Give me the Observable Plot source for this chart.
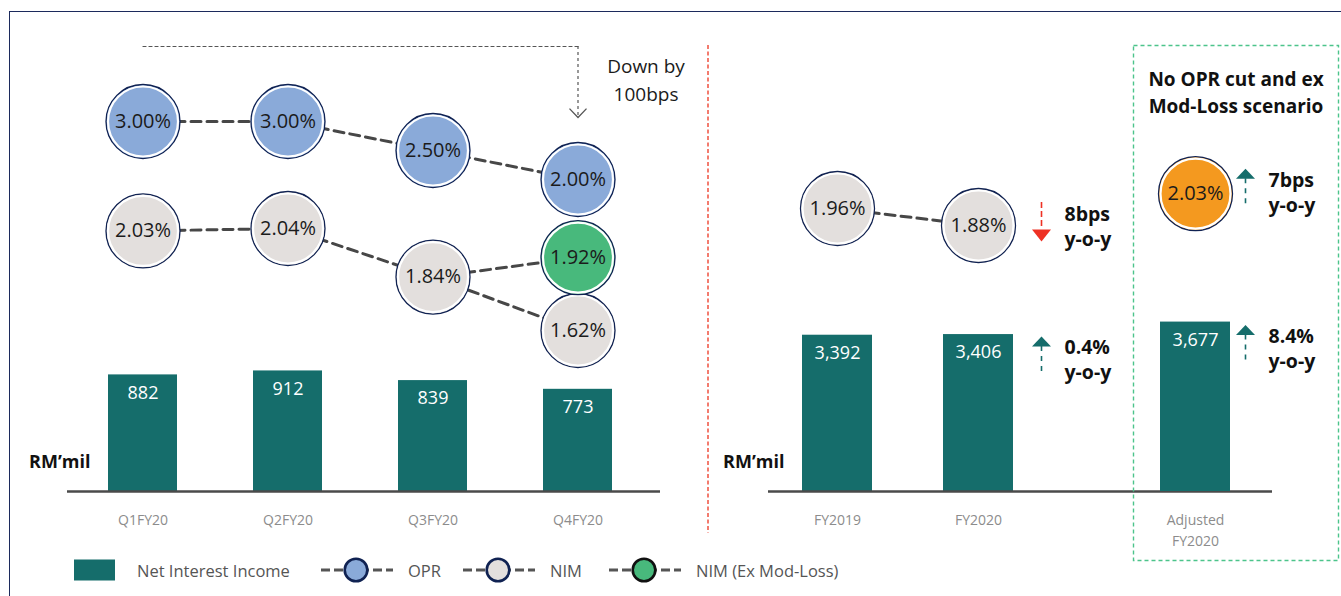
<!DOCTYPE html>
<html>
<head>
<meta charset="utf-8">
<script src="https://cdn.jsdelivr.net/npm/d3@7"></script>
<script src="https://cdn.jsdelivr.net/npm/@observablehq/plot@0.6"></script>
<style>
  body { margin: 0; background: #fff; font-family: 'Open Sans', sans-serif; }
  #chart { position: relative; width: 1341px; height: 596px; overflow: hidden; background: #fff; }
  .border { position: absolute; left: 9px; top: 11px; width: 2000px; height: 2000px;
            border-top: 1.4px solid #1c2a5c; border-left: 1.4px solid #1c2a5c; }
  .legend-item { position: absolute; top: 556px; height: 28px; display: flex; align-items: center;
                 font-size: 16.5px; color: #555; white-space: nowrap; }
</style>
</head>
<body>
<div id="chart"><div class="border"></div></div>
<script>
// Quarterly net interest income (RM mil), OPR and NIM (%)
const quarters = ["Q1FY20", "Q2FY20", "Q3FY20", "Q4FY20"];
const quarterNII = [882, 912, 839, 773];
const quarterOPR = [3.00, 3.00, 2.50, 2.00];
const quarterNIM = [2.03, 2.04, 1.84, 1.62];
const q4NIMExModLoss = 1.92;

// Full-year comparison
const years = ["FY2019", "FY2020"];
const yearNII = [3392, 3406];
const yearNIM = [1.96, 1.88];

// No OPR cut and ex Mod-Loss scenario
const adjustedYear = "Adjusted\nFY2020";
const adjustedNII = 3677;
const adjustedNIM = 2.03;
const scenarioTitle = "No OPR cut and ex\nMod-Loss scenario";

const legendLabels = ["Net Interest Income", "OPR", "NIM", "NIM (Ex Mod-Loss)"];

const colors = {
  nii: "#156d6b", opr: "#8aaad9", nim: "#e3dfdd", exMod: "#48b97c", adjusted: "#f4991f",
  ring: "#102252", link: "#474747", up: "#156d6b", down: "#ee3124", note: "#111"
};

const chart = document.getElementById("chart");
const W = 1341, H = 596;
const layerStyle = "position:absolute;left:0;top:0;background:transparent;overflow:visible;font-family:'Open Sans',sans-serif;";

// Every layer is a full-size transparent Plot stacked on the same origin
function layer(options) {
  const svg = Plot.plot({width: W, height: H, style: layerStyle, ...options});
  chart.appendChild(svg);
}

const rows = (keys, values) => keys.map((k, i) => ({k, v: values[i]}));
const leftNII = rows(quarters, quarterNII);
const leftOPR = rows(quarters, quarterOPR);
const leftNIM = rows(quarters, quarterNIM);
const leftExMod = [{k: quarters[3], v: q4NIMExModLoss}];
const exModLink = [leftNIM[2], leftExMod[0]];
const yearNIIRows = rows(years, yearNII);
const yearNIMRows = rows(years, yearNIM);
const adjNIIRows = [{k: adjustedYear, v: adjustedNII}];
const adjNIMRows = [{k: adjustedYear, v: adjustedNIM}];

// Arrow heads and the open chevron, anchored at their base
const headUp = {draw(ctx, size) { const r = Math.sqrt(size / Math.PI); ctx.moveTo(0, -r * 1.05); ctx.lineTo(r, 0); ctx.lineTo(-r, 0); ctx.closePath(); }};
const headDown = {draw(ctx, size) { const r = Math.sqrt(size / Math.PI); ctx.moveTo(0, r * 1.25); ctx.lineTo(r, 0); ctx.lineTo(-r, 0); ctx.closePath(); }};
const chevron = {draw(ctx, size) { const r = Math.sqrt(size / Math.PI); ctx.moveTo(-r, -r * 1.05); ctx.lineTo(0, 0); ctx.lineTo(r, -r * 1.05); }};

// Scales
const xQuarter = {type: "band", domain: quarters, range: [70.5, 650.5], paddingInner: 0.524, paddingOuter: 0.262, axis: null};
const xYear = {type: "band", domain: years, range: [766.5, 1048.5], paddingInner: 0.503, paddingOuter: 0.2515, axis: null};
const xAdjusted = {type: "band", domain: [adjustedYear], range: [1124.5, 1265.5], paddingInner: 0.503, paddingOuter: 0.2515, axis: null};
const yQuarterNII = {domain: [0, 1000], range: [491, 358.8], axis: null};
const yYearNII = {domain: [0, 4000], range: [491, 306.7], axis: null};
const yOPR = {domain: [2, 3], range: [179, 121], axis: null};
const yQuarterNIM = {domain: [1.62, 2.04], range: [330, 228], axis: null};
const yYearNIM = {domain: [1.88, 1.96], range: [225, 208], axis: null};

const pct = d => d.v.toFixed(2) + "%";
const fmtNII = d3.format(",");

function barMarks(data) {
  return [
    Plot.barY(data, {x: "k", y: "v", fill: colors.nii}),
    Plot.text(data, {x: "k", y: "v", text: d => fmtNII(d.v), dy: 18, fill: "white", fontSize: 18}),
    Plot.text(data, {x: "k", y: () => 0, text: "k", dy: 18.5, lineAnchor: "top", lineHeight: 1.5, fontSize: 14, fill: "#8c8c8c"})
  ];
}

const unitLabel = dx => Plot.text(["RM\u2019mil"], {frameAnchor: "bottom-left", textAnchor: "end", dx, dy: -24, fontSize: 18, fontWeight: "bold", fill: colors.note});
const axisRule = Plot.ruleY([0], {stroke: "#4a4a4a", strokeWidth: 2.5});

function bubbles(data, fill, ring = colors.ring) {
  return [
    Plot.dot(data, {x: "k", y: "v", r: 37, fill, stroke: ring, strokeWidth: 1.3}),
    Plot.dot(data, {x: "k", y: "v", r: 35, fill: "none", stroke: "white", strokeWidth: 2.2}),
    Plot.text(data, {x: "k", y: "v", text: pct, fontSize: 20, fill: "#1b1b1b"})
  ];
}
const link = data => Plot.line(data, {x: "k", y: "v", stroke: colors.link, strokeWidth: 3, strokeDasharray: "10,6"});

// Year-on-year change: dashed shaft, arrow head and bold label
function changeNote(d, {dir, shaft, head, dx, textDx, textDy}) {
  const color = dir === "up" ? colors.up : colors.down;
  return [
    Plot.ruleX([d], {x: "k", y1: "v", y2: "v", dx, insetTop: shaft[0], insetBottom: -shaft[1],
      stroke: color, strokeWidth: 1.6, strokeDasharray: dir === "up" ? "5,5" : "6,3"}),
    Plot.dot([d], {x: "k", y: "v", dx, dy: head, r: 9.5, symbol: dir === "up" ? headUp : headDown, fill: color, stroke: "none"}),
    Plot.text([d], {x: "k", y: "v", text: "text", dx: textDx, dy: textDy, textAnchor: "start",
      fontSize: 19.5, fontWeight: "bold", lineHeight: 1.3, fill: colors.note})
  ];
}
const niiGrowth = (a, b) => ((b / a - 1) * 100).toFixed(1) + "%\ny-o-y";
const nimChange = (a, b) => Math.round(Math.abs(b - a) * 100) + "bps\ny-o-y";

// ---- Quarterly panel ----
layer({
  marginLeft: 67, marginRight: W - 660, marginTop: 40, marginBottom: H - 491,
  x: xQuarter, y: yQuarterNII,
  marks: [...barMarks(leftNII), axisRule, unitLabel(23)]
});

const oprCut = {k: leftOPR[3].k, from: leftOPR[0].v, to: leftOPR[3].v};
layer({
  marginLeft: 67, marginRight: W - 660, marginTop: 40, marginBottom: H - 491,
  x: xQuarter, y: yOPR,
  marks: [
    link(leftOPR),
    ...bubbles(leftOPR, colors.opr),
    // OPR cut annotation, from the first quarter's level down to the last quarter
    Plot.line([{k: leftOPR[0].k, v: oprCut.from}, {k: oprCut.k, v: oprCut.from}], {x: "k", y: "v", dy: -75, stroke: "#555", strokeWidth: 1.2, strokeDasharray: "3,3"}),
    Plot.ruleX([oprCut], {x: "k", y1: "from", y2: "to", insetTop: -75, insetBottom: 62, stroke: "#555", strokeWidth: 1.2, strokeDasharray: "3,3"}),
    Plot.dot([oprCut], {x: "k", y: "to", dy: -62, r: 8.5, symbol: chevron, fill: "none", stroke: "#555", strokeWidth: 1.3}),
    Plot.text([oprCut], {x: "k", y: "to", text: d => `Down by\n${Math.round((d.from - d.to) * 100)}bps`, dx: 68, dy: -101.5, fontSize: 19, lineHeight: 1.5, fill: "#1b1b1b"})
  ]
});

layer({
  marginLeft: 67, marginRight: W - 660, marginTop: 40, marginBottom: H - 491,
  x: xQuarter, y: yQuarterNIM,
  marks: [
    link(leftNIM),
    link(exModLink),
    ...bubbles(leftNIM, colors.nim),
    ...bubbles(leftExMod, colors.exMod)
  ]
});

// ---- Full-year panel ----
layer({
  marginLeft: 768, marginRight: W - 1272, marginTop: 40, marginBottom: H - 491,
  x: xYear, y: yYearNII,
  marks: [
    ...barMarks(yearNIIRows), axisRule, unitLabel(16),
    ...changeNote({k: years[1], v: yearNII[1], text: niiGrowth(yearNII[0], yearNII[1])},
      {dir: "up", shaft: [12, 42], head: 12, dx: 63, textDx: 86, textDy: 24})
  ]
});

layer({
  marginLeft: 768, marginRight: W - 1272, marginTop: 40, marginBottom: H - 491,
  x: xYear, y: yYearNIM,
  marks: [
    link(yearNIMRows),
    ...bubbles(yearNIMRows, colors.nim),
    ...changeNote({k: years[1], v: yearNIM[1], text: nimChange(yearNIM[0], yearNIM[1])},
      {dir: "down", shaft: [-23, 3], head: 4, dx: 63, textDx: 86, textDy: 0})
  ]
});

// ---- Scenario panel (framed) ----
layer({
  marginLeft: 1133, marginRight: 3, marginTop: 45, marginBottom: 36,
  x: xAdjusted, y: yYearNII,
  marks: [
    Plot.frame({stroke: "#4cc48b", strokeWidth: 1.4, strokeDasharray: "4,3"}),
    Plot.text([scenarioTitle], {frameAnchor: "top", lineAnchor: "top", dy: 22, fontSize: 19, fontWeight: "bold", lineHeight: 1.4, fill: colors.note}),
    ...barMarks(adjNIIRows),
    ...changeNote({k: adjustedYear, v: adjustedNII, text: niiGrowth(yearNII[0], adjustedNII)},
      {dir: "up", shaft: [13, 43], head: 13, dx: 50, textDx: 73, textDy: 25})
  ]
});

layer({
  marginLeft: 1133, marginRight: 3, marginTop: 45, marginBottom: 36,
  x: xAdjusted, y: yYearNIM,
  marks: [
    ...bubbles(adjNIMRows, colors.adjusted),
    ...changeNote({k: adjustedYear, v: adjustedNIM, text: nimChange(yearNIM[0], adjustedNIM)},
      {dir: "up", shaft: [-15, 15], head: -15, dx: 50, textDx: 73, textDy: -2})
  ]
});

// Panel divider
d3.select(chart).append("svg")
  .attr("width", W).attr("height", H)
  .style("position", "absolute").style("left", 0).style("top", 0)
  .append("line")
  .attr("x1", 708).attr("x2", 708).attr("y1", 45).attr("y2", 533)
  .attr("stroke", "#f0503f").attr("stroke-width", 1.5).attr("stroke-dasharray", "4,2.5");

// Legend
const legendSpec = [
  {label: legendLabels[0], left: 74, swatch: "bar"},
  {label: legendLabels[1], left: 319, fill: colors.opr, ring: colors.ring},
  {label: legendLabels[2], left: 461, fill: colors.nim, ring: colors.ring},
  {label: legendLabels[3], left: 607, fill: colors.exMod, ring: "#111"}
];
for (const item of legendSpec) {
  const div = d3.select(chart).append("div").attr("class", "legend-item").style("left", item.left + "px");
  const sw = div.append("svg").attr("width", item.swatch === "bar" ? 63 : 89).attr("height", 28);
  if (item.swatch === "bar") {
    sw.append("rect").attr("x", 0).attr("y", 3.5).attr("width", 41).attr("height", 21).attr("fill", colors.nii);
  } else {
    sw.append("line").attr("x1", 2).attr("x2", 74).attr("y1", 14).attr("y2", 14)
      .attr("stroke", "#555").attr("stroke-width", 3).attr("stroke-dasharray", "9,4");
    sw.append("circle").attr("cx", 37).attr("cy", 14).attr("r", 11.3)
      .attr("fill", item.fill).attr("stroke", item.ring).attr("stroke-width", 2.6);
  }
  div.append("span").text(item.label);
}
</script>
</body>
</html>
